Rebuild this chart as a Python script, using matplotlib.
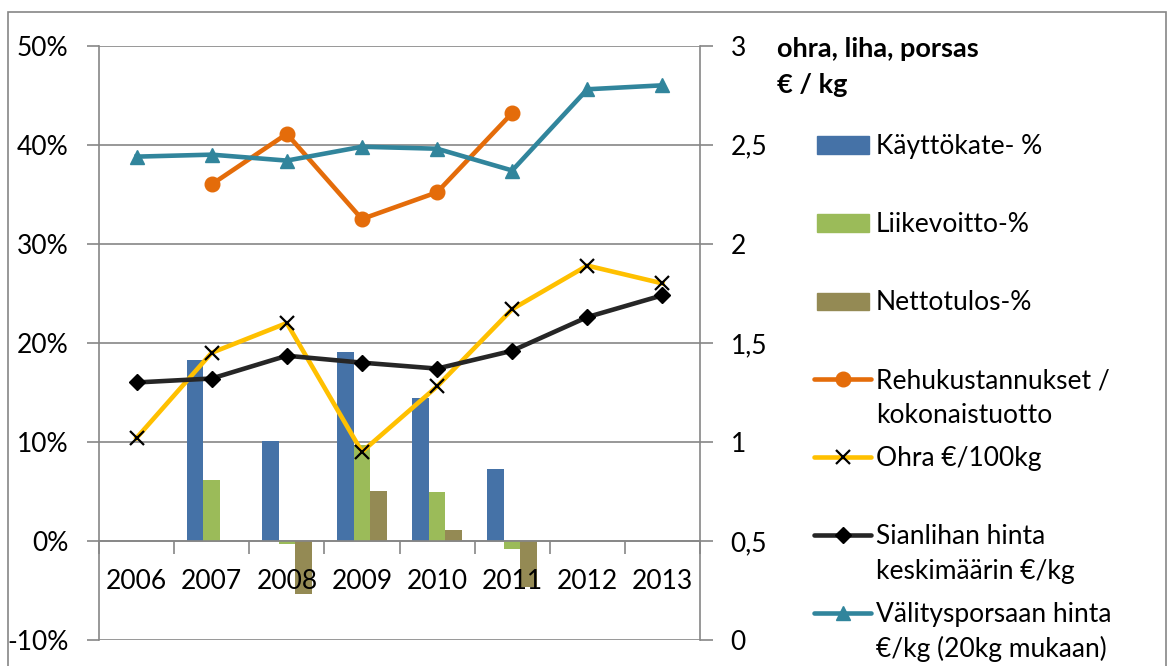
import numpy as np
import matplotlib
matplotlib.use("Agg")
import matplotlib.pyplot as plt
from matplotlib.lines import Line2D
from matplotlib.patches import Rectangle
from matplotlib.ticker import FixedLocator, FuncFormatter, NullFormatter

plt.rcParams['font.family'] = ['Lato', 'DejaVu Sans']

# data
years = ['2006', '2007', '2008', '2009', '2010', '2011', '2012', '2013']
kayttokate = [np.nan, 18.3, 10.1, 19.1, 14.4, 7.3, np.nan, np.nan]       # %
liikevoitto = [np.nan, 6.2, -0.35, 9.7, 4.9, -0.85, np.nan, np.nan]      # %
nettotulos = [np.nan, np.nan, -5.4, 5.0, 1.15, -4.6, np.nan, np.nan]     # %
rehu = [np.nan, 36.0, 41.1, 32.5, 35.2, 43.2, np.nan, np.nan]            # %
ohra = [1.02, 1.45, 1.60, 0.95, 1.28, 1.67, 1.89, 1.80]                  # right axis
sianliha = [1.30, 1.32, 1.435, 1.40, 1.37, 1.46, 1.63, 1.74]
porsas = [2.44, 2.45, 2.42, 2.49, 2.48, 2.37, 2.78, 2.80]

c_blue = '#4572A7'
c_green = '#9BBB59'
c_brown = '#948A54'
c_orange = '#E46C0A'
c_yellow = '#FFC000'
c_black = '#262626'
c_teal = '#31859C'
c_grid = '#868686'

W, H = 1168, 666
fs = 19

def fx(px):
    return px / W

def fy(py):
    return 1 - py / H

fig = plt.figure(figsize=(W / 100, H / 100), dpi=100)
ax = fig.add_axes([fx(99), fy(640), (700 - 99) / W, (640 - 45.7) / H])
ax2 = ax.twinx()

x = np.arange(len(years))
bw = 0.22
ax.bar(x - bw, kayttokate, bw, color=c_blue, zorder=2)
ax.bar(x, liikevoitto, bw, color=c_green, zorder=2)
ax.bar(x + bw, nettotulos, bw, color=c_brown, zorder=2)

ax.plot(x, rehu, color=c_orange, lw=3.3, marker='o', ms=10.5, zorder=3)
ax2.plot(x, ohra, color=c_yellow, lw=3.3, marker='x', ms=9.5, mew=1.6, mec='black', zorder=3)
ax2.plot(x, sianliha, color=c_black, lw=3.3, marker='D', ms=8, mfc='black', mec='black', zorder=3)
ax2.plot(x, porsas, color=c_teal, lw=3.3, marker='^', ms=10.5, zorder=3)

# left axis
ax.set_xlim(-0.5, 7.5)
ax.set_ylim(-10, 50)
ax.set_yticks(range(-10, 51, 10))
ax.yaxis.set_major_formatter(FuncFormatter(lambda v, p: f"{v:.0f}%"))
ax.yaxis.grid(True, color=c_grid, lw=1.2)
ax.set_axisbelow(True)
for s in ['top', 'right']:
    ax.spines[s].set_visible(False)
ax.spines['left'].set_color(c_grid)
ax.spines['left'].set_linewidth(1.2)
ax.spines['bottom'].set_position(('data', 0))
ax.spines['bottom'].set_color(c_grid)
ax.spines['bottom'].set_linewidth(1.2)
ax.tick_params(axis='y', direction='out', length=9, width=1.2, color=c_grid,
               labelsize=fs, pad=13)

# category axis: ticks at boundaries, year labels drawn above the bars
ax.xaxis.set_major_locator(FixedLocator(np.arange(-0.5, 8, 1)))
ax.xaxis.set_major_formatter(NullFormatter())
ax.tick_params(axis='x', which='major', direction='out', length=9, width=1.2, color=c_grid)
for xi, yr in zip(x, years):
    ax.annotate(yr, (xi, 0), xytext=(0, -34.6), textcoords='offset points',
                ha='center', va='baseline', fontsize=fs, zorder=5, annotation_clip=False)

# right axis
ax2.set_ylim(0, 3)
ax2.set_yticks(np.arange(0, 3.01, 0.5))
ax2.yaxis.set_major_formatter(FuncFormatter(lambda v, p: f"{v:g}".replace('.', ',')))
for s in ['top', 'left', 'bottom']:
    ax2.spines[s].set_visible(False)
ax2.spines['right'].set_color(c_grid)
ax2.spines['right'].set_linewidth(1.2)
ax2.tick_params(axis='y', direction='out', length=9, width=1.2, color=c_grid,
                labelsize=fs, pad=13)

# outer frame
fig.add_artist(Rectangle((fx(8), fy(700)), (1166 - 8) / W, (700 - 12) / H,
                         transform=fig.transFigure, fill=False, ec=c_grid, lw=1.2))

# legend title
fig.text(fx(777), fy(57), 'ohra, liha, porsas', fontsize=19.5, fontweight='bold', va='baseline')
fig.text(fx(777), fy(93), '€ / kg', fontsize=19.5, fontweight='bold', va='baseline')

# legend entries
entries = [
    ('bar', c_blue, None, ['Käyttökate- %']),
    ('bar', c_green, None, ['Liikevoitto-%']),
    ('bar', c_brown, None, ['Nettotulos-%']),
    ('line', c_orange, dict(marker='o', ms=10.5), ['Rehukustannukset /', 'kokonaistuotto']),
    ('line', c_yellow, dict(marker='x', ms=9.5, mew=1.6, mec='black'), ['Ohra €/100kg']),
    ('line', c_black, dict(marker='D', ms=8, mfc='black', mec='black'),
     ['Sianlihan hinta', 'keskimäärin €/kg']),
    ('line', c_teal, dict(marker='^', ms=10.5), ['Välitysporsaan hinta', '€/kg (20kg mukaan)']),
]
base0 = 154
step = 78
for i, (kind, col, mk, lines) in enumerate(entries):
    base = base0 + i * step
    yc = base - 9
    if kind == 'bar':
        fig.add_artist(Rectangle((fx(817), fy(yc + 8.5)), 52 / W, 17 / H,
                                 transform=fig.transFigure, color=col))
    else:
        fig.add_artist(Line2D([fx(814), fx(871)], [fy(yc), fy(yc)], color=col, lw=3.3,
                              solid_capstyle='round', transform=fig.transFigure))
        fig.add_artist(Line2D([fx(843)], [fy(yc)], color=col, lw=0, **mk,
                              transform=fig.transFigure))
    for j, t in enumerate(lines):
        fig.text(fx(876), fy(base + j * 35), t, fontsize=fs, va='baseline')

fig.savefig('out.png', dpi=100)
